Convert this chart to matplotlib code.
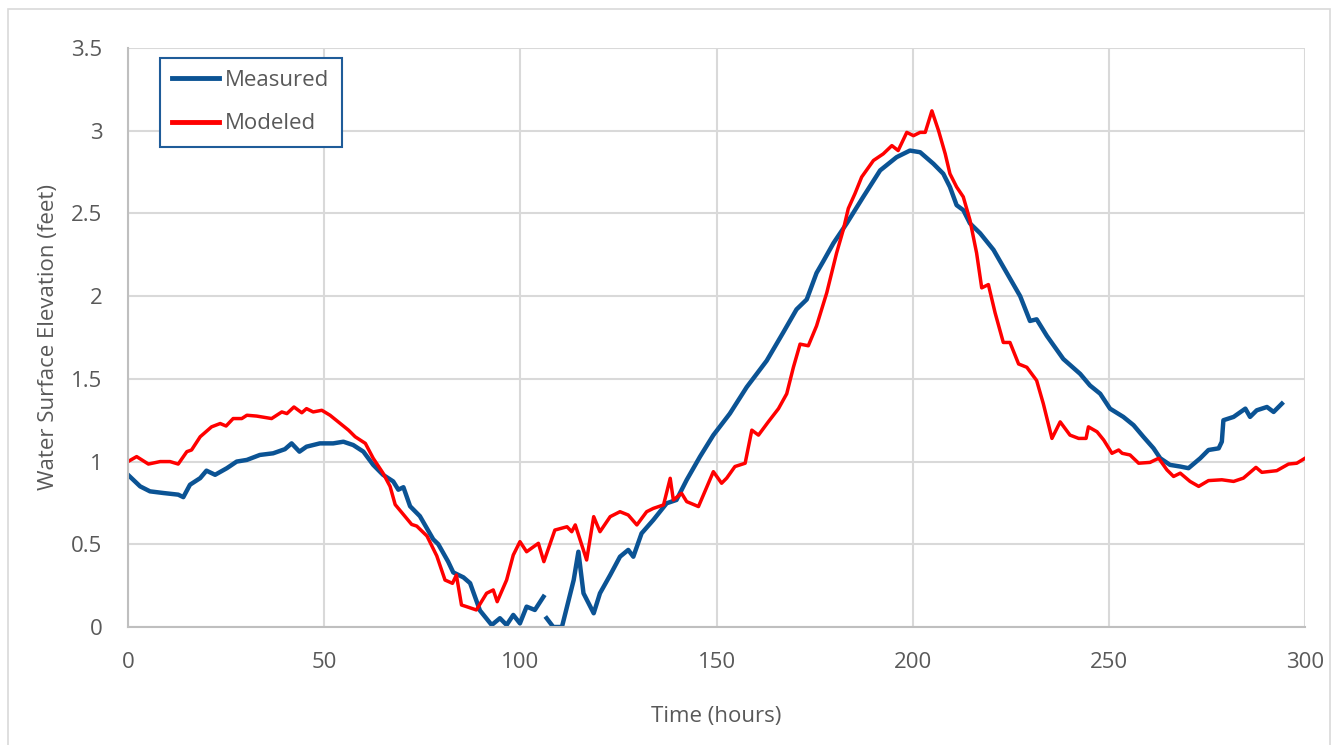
import numpy as np
import matplotlib.pyplot as plt
from matplotlib.patches import Rectangle

# Measured series (time in hours, elevation in feet)
meas_t = [0, 3.1, 5.6, 9, 12.8, 14.1, 15.8, 18.4, 20, 22.2, 25.2, 27.7, 30.3, 33.6, 37,
          40, 41.7, 43.7, 45.5, 48.9, 52.3, 54.9, 57.4, 60, 62.5, 65, 67.6, 68.9, 70.2,
          71.9, 74.4, 77.8, 79.1, 81.6, 82.9, 85.5, 87.2, 89.7, 92.7, 94.8, 96.5, 98.2,
          99.9, 101.6, 103.7, 105.9, 106.3, 106.7, 108.4, 110.6, 111.9, 113.6, 114.8,
          116.1, 118.7, 120.3, 122.9, 125.4, 127.5, 128.8, 130.9, 133.9, 137.3, 139.8,
          142.4, 145.8, 149.2, 153.4, 157.7, 162.8, 167, 170.4, 173, 175.5, 177.2, 179.8,
          183.2, 187.4, 191.7, 195.9, 199.3, 201.9, 205.3, 207.8, 209.5, 211.2, 212.9,
          214.6, 217.2, 220.6, 224, 227.4, 229.9, 231.6, 234.2, 238.4, 242.7, 245.2,
          247.8, 250.3, 253.7, 256.3, 258.8, 261.4, 263.1, 265.6, 268.2, 270.3, 273.3,
          275.4, 278, 278.8, 279.2, 281.8, 284.8, 286, 287.7, 290.3, 292, 294.1]
meas_v = [0.92, 0.85, 0.82, 0.81, 0.80, 0.785, 0.86, 0.90, 0.945, 0.92, 0.96, 1.0, 1.01,
          1.04, 1.05, 1.075, 1.11, 1.06, 1.09, 1.11, 1.11, 1.12, 1.10, 1.06, 0.98, 0.92,
          0.88, 0.83, 0.845, 0.73, 0.67, 0.53, 0.50, 0.395, 0.33, 0.30, 0.265, 0.10,
          0.012, 0.053, 0.012, 0.073, 0.022, 0.123, 0.103, 0.183, np.nan, 0.053, 0.0,
          0.0, 0.123, 0.284, 0.455, 0.204, 0.083, 0.204, 0.314, 0.425, 0.466, 0.425,
          0.566, 0.647, 0.748, 0.768, 0.889, 1.03, 1.16, 1.29, 1.45, 1.61, 1.78, 1.92,
          1.98, 2.14, 2.21, 2.32, 2.44, 2.60, 2.76, 2.84, 2.88, 2.87, 2.80, 2.74, 2.66,
          2.55, 2.52, 2.44, 2.38, 2.28, 2.14, 2.0, 1.85, 1.86, 1.76, 1.62, 1.53, 1.46,
          1.41, 1.32, 1.27, 1.22, 1.15, 1.08, 1.02, 0.98, 0.97, 0.96, 1.02, 1.07, 1.08,
          1.12, 1.25, 1.27, 1.32, 1.27, 1.31, 1.33, 1.30, 1.35]

# Modeled series
mod_t = [0, 2.2, 5.2, 8.2, 10.7, 12.8, 15, 16.2, 18.4, 21.3, 23.5, 25, 26.8, 29, 30.3,
         32.8, 36.6, 39.2, 40.5, 42.3, 44.3, 45.5, 47.2, 49.4, 51.5, 54.1, 56.2, 57.9,
         60.5, 62.5, 65, 66.8, 68.1, 70.2, 72.3, 73.6, 76.2, 78.7, 80.8, 82.7, 83.7, 85,
         86.3, 88.8, 91.4, 93.1, 94.1, 96.5, 98.2, 99.9, 101.6, 104.6, 106, 108.8, 111.9,
         113.1, 114, 116.9, 118.7, 120.3, 122.9, 125.4, 127.5, 129.7, 132.2, 133.9,
         136.5, 138.2, 139, 141.1, 142.4, 145.4, 149.2, 151.3, 152.6, 154.7, 157.3, 159,
         160.7, 163.2, 165.8, 167.9, 169.6, 171.3, 173.4, 175.5, 178.1, 180.6, 182.3,
         183.6, 185.3, 187, 190, 192.5, 194.7, 196.3, 198.5, 200.2, 201.9, 203.2, 204.9,
         206.6, 208.3, 209.5, 211.2, 212.9, 214.6, 216.3, 217.6, 219.3, 221, 223.1,
         224.8, 227, 229.1, 231.6, 233.3, 235.5, 237.6, 240.1, 242.3, 244.2, 244.8, 247,
         248.7, 250.8, 252.5, 253.4, 255.4, 257.6, 260.5, 262.7, 264.8, 266.5, 268.2,
         270.7, 272.9, 275.4, 278.8, 281.8, 284.3, 287.5, 289, 292.8, 295.8, 297.9, 300]
mod_v = [1.0, 1.03, 0.985, 1.0, 1.0, 0.985, 1.06, 1.07, 1.15, 1.21, 1.23, 1.215, 1.26,
         1.26, 1.28, 1.275, 1.26, 1.30, 1.29, 1.33, 1.295, 1.32, 1.30, 1.31, 1.28, 1.23,
         1.19, 1.15, 1.11, 1.02, 0.93, 0.85, 0.74, 0.68, 0.62, 0.61, 0.55, 0.43, 0.284,
         0.264, 0.314, 0.133, 0.123, 0.103, 0.204, 0.224, 0.153, 0.284, 0.435, 0.516,
         0.455, 0.506, 0.395, 0.586, 0.606, 0.576, 0.617, 0.405, 0.667, 0.576, 0.667,
         0.697, 0.677, 0.617, 0.697, 0.717, 0.738, 0.899, 0.768, 0.808, 0.758, 0.728,
         0.939, 0.869, 0.90, 0.97, 0.99, 1.19, 1.16, 1.24, 1.32, 1.41, 1.57, 1.71, 1.70,
         1.82, 2.02, 2.26, 2.40, 2.53, 2.62, 2.72, 2.82, 2.86, 2.91, 2.88, 2.99, 2.97,
         2.99, 2.99, 3.12, 3.00, 2.86, 2.74, 2.66, 2.60, 2.46, 2.26, 2.05, 2.07, 1.90,
         1.72, 1.72, 1.59, 1.57, 1.49, 1.35, 1.14, 1.24, 1.16, 1.14, 1.14, 1.21, 1.18,
         1.13, 1.05, 1.07, 1.05, 1.04, 0.99, 0.995, 1.02, 0.95, 0.91, 0.93, 0.88, 0.85,
         0.885, 0.89, 0.88, 0.90, 0.965, 0.935, 0.945, 0.985, 0.99, 1.02]

x_ticks = [0, 50, 100, 150, 200, 250, 300]
y_ticks = [0, 0.5, 1, 1.5, 2, 2.5, 3, 3.5]
y_labels = ['0', '0.5', '1', '1.5', '2', '2.5', '3', '3.5']

plt.rcParams['font.family'] = ['Open Sans', 'DejaVu Sans']

fig = plt.figure(figsize=(13.35, 7.45), dpi=100)
ax = fig.add_axes([128 / 1335, 1 - 627 / 745, 1177 / 1335, 579 / 745])

# light border around the chart area (bottom edge runs off the image)
fig.patches.append(Rectangle((8 / 1335, -0.02), 1322 / 1335, 1.02 - 9 / 745,
                             transform=fig.transFigure, fill=False,
                             edgecolor='#d9d9d9', linewidth=1.2))

ax.plot(meas_t, meas_v, color='#0b5394', linewidth=3.2, label='Measured')
ax.plot(mod_t, mod_v, color='#ff0000', linewidth=2.5, label='Modeled')

ax.set_xlim(0, 300)
ax.set_ylim(0, 3.5)
ax.set_xticks(x_ticks)
ax.set_yticks(y_ticks)
ax.set_yticklabels(y_labels)
ax.grid(True, color='#d9d9d9', linewidth=1.5)
ax.set_axisbelow(True)

for side in ['top', 'right']:
    ax.spines[side].set_visible(False)
for side in ['left', 'bottom']:
    ax.spines[side].set_color('#bfbfbf')
    ax.spines[side].set_linewidth(1.5)

ax.tick_params(axis='both', length=0, labelsize=16, labelcolor='#595959')
ax.tick_params(axis='y', pad=18.5)
ax.tick_params(axis='x', pad=18)

ax.set_xlabel('Time (hours)', fontsize=16, color='#595959', labelpad=24)
ax.set_ylabel('Water Surface Elevation (feet)', fontsize=16, color='#595959', labelpad=9)

leg = ax.legend(loc='upper left', bbox_to_anchor=(0.027, 0.983), borderaxespad=0,
                fontsize=16, handlelength=2.1, labelspacing=1.0, borderpad=0.55,
                handletextpad=0.3, fancybox=False, framealpha=1)
leg.get_frame().set_edgecolor('#1f5c99')
leg.get_frame().set_linewidth(1.5)
for txt in leg.get_texts():
    txt.set_color('#595959')
for line in leg.get_lines():
    line.set_linewidth(3.5)

fig.savefig('out.png', dpi=100)
